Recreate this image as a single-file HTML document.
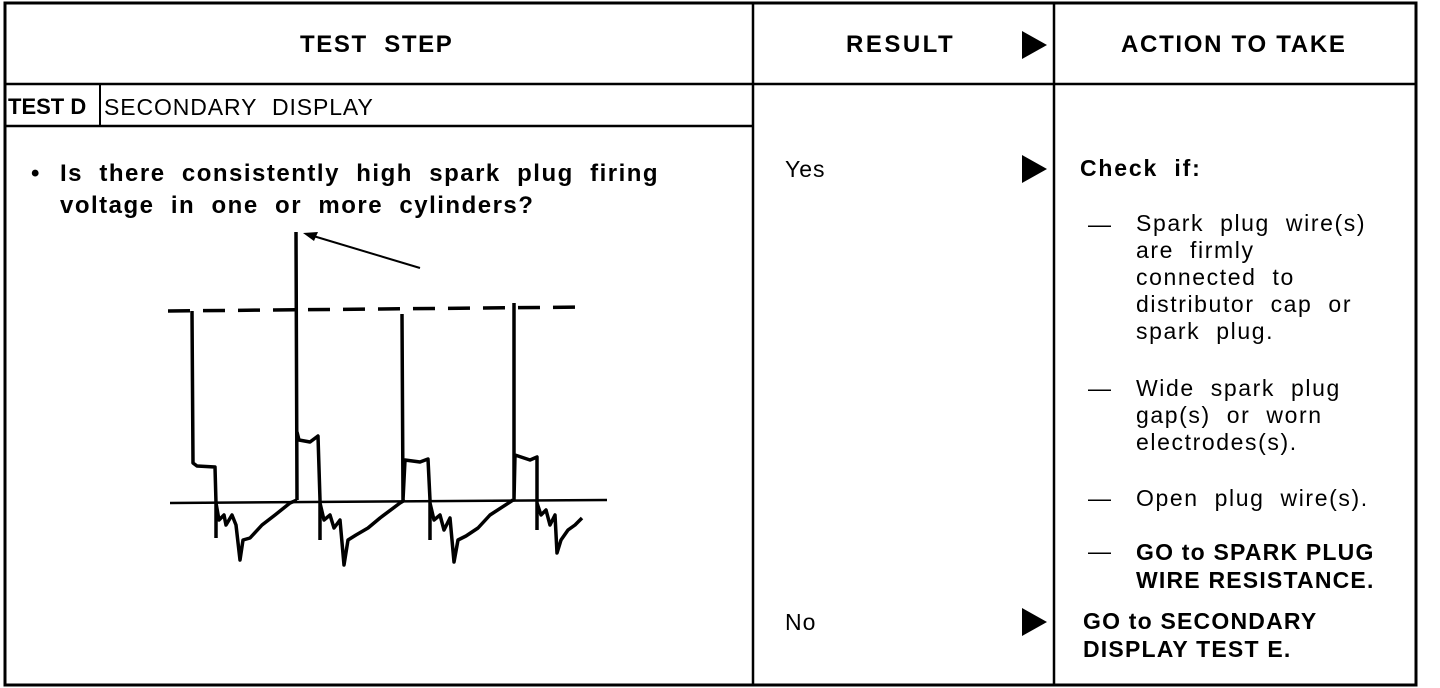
<!DOCTYPE html>
<html><head><meta charset="utf-8"><style>
body{margin:0;width:1440px;height:688px;background:#fff;overflow:hidden;font-family:"Liberation Sans",Arial,sans-serif;color:#000}
.t{position:absolute;white-space:nowrap}
.b{font-weight:bold}
</style></head><body>
<svg width="1440" height="688" style="position:absolute;left:0;top:0" fill="none" stroke="#000">
<rect x="5" y="3" width="1411" height="682" stroke-width="3"/>
<line x1="753" y1="3" x2="753" y2="685" stroke-width="2.5"/>
<line x1="1054" y1="3" x2="1054" y2="685" stroke-width="2.5"/>
<line x1="5" y1="84" x2="1416" y2="84" stroke-width="2.5"/>
<line x1="5" y1="126" x2="753" y2="126" stroke-width="2.5"/>
<line x1="100" y1="84" x2="100" y2="126" stroke-width="2"/>
<polygon points="1022,31 1022,59 1047,45" fill="#000" stroke="none"/>
<polygon points="1022,155 1022,183 1047,169" fill="#000" stroke="none"/>
<polygon points="1022,608 1022,636 1047,622" fill="#000" stroke="none"/>
<line x1="168" y1="311" x2="587" y2="307" stroke-width="3.5" stroke-dasharray="22,13"/>
<line x1="170" y1="503" x2="607" y2="500" stroke-width="2.5"/>
<g stroke-width="3.5" stroke-linejoin="round">
<path d="M192,311 L193,463 L197,466 L215,467 L216,503 L216,538 M216,503 L219,520 L224,515 L226,525 L232,515 L236,525 L240,560 L243,540 L250,538 L262,525 L275,515 L290,503 L297,500"/>
<path d="M296,232 L297,500 M297,432 L299,440 L310,442 L318,436 L320,500 L320,540 M320,503 L324,520 L330,515 L334,528 L340,520 L344,565 L348,540 L356,535 L368,528 L380,518 L400,503 L405,500"/>
<path d="M402,314 L403,500 L405,460 L420,462 L428,459 L430,500 L430,540 M430,503 L434,520 L440,515 L444,530 L450,518 L454,562 L458,540 L466,536 L478,528 L490,515 L510,502 L513,500"/>
<path d="M514,303 L514,500 L515,455 L530,460 L537,457 L537,500 L537,530 M537,503 L541,515 L546,510 L550,525 L555,515 L557,553 L561,540 L568,530 L575,525 L582,518"/>
</g>
<line x1="420" y1="268" x2="310" y2="235" stroke-width="2"/>
<polygon points="303,233 318,232 314,241" fill="#000" stroke="none"/>
</svg>
<div class="t b" style="left:300px;top:31px;font-size:24px;letter-spacing:1.6px">TEST&nbsp; STEP</div>
<div class="t b" style="left:846px;top:31px;font-size:24px;letter-spacing:2.5px">RESULT</div>
<div class="t b" style="left:1121px;top:31px;font-size:24px;letter-spacing:1.7px">ACTION TO TAKE</div>
<div class="t b" style="left:8px;top:94px;font-size:22px">TEST D</div>
<div class="t" style="left:104px;top:94px;font-size:23px;letter-spacing:0.9px">SECONDARY&nbsp; DISPLAY</div>
<div class="t b" style="left:31px;top:158px;font-size:24px;line-height:32px">•</div>
<div class="t b" style="left:60px;top:158px;font-size:24px;line-height:32px;letter-spacing:1.5px">Is&nbsp; there&nbsp; consistently&nbsp; high&nbsp; spark&nbsp; plug&nbsp; firing<br>voltage&nbsp; in&nbsp; one&nbsp; or&nbsp; more&nbsp; cylinders?</div>
<div class="t" style="left:785px;top:156px;font-size:23px;letter-spacing:1px">Yes</div>
<div class="t" style="left:785px;top:609px;font-size:23px;letter-spacing:1px">No</div>
<div class="t b" style="left:1080px;top:155px;font-size:23px;letter-spacing:1.8px">Check&nbsp; if:</div>
<div class="t" style="left:1088px;top:210px;font-size:23px;line-height:28px">—</div>
<div class="t" style="left:1136px;top:210px;font-size:23px;line-height:27px;letter-spacing:1.6px">Spark&nbsp; plug&nbsp; wire(s)<br>are&nbsp; firmly<br>connected&nbsp; to<br>distributor&nbsp; cap&nbsp; or<br>spark&nbsp; plug.</div>
<div class="t" style="left:1088px;top:375px;font-size:23px">—</div>
<div class="t" style="left:1136px;top:375px;font-size:23px;line-height:27px;letter-spacing:1.6px">Wide&nbsp; spark&nbsp; plug<br>gap(s)&nbsp; or&nbsp; worn<br>electrodes(s).</div>
<div class="t" style="left:1088px;top:485px;font-size:23px">—</div>
<div class="t" style="left:1136px;top:485px;font-size:23px;letter-spacing:1.6px">Open&nbsp; plug&nbsp; wire(s).</div>
<div class="t" style="left:1088px;top:538px;font-size:23px">—</div>
<div class="t b" style="left:1136px;top:538px;font-size:23px;line-height:28px;letter-spacing:1.2px">GO to SPARK PLUG<br>WIRE RESISTANCE.</div>
<div class="t b" style="left:1083px;top:607px;font-size:23px;line-height:28px;letter-spacing:1.2px">GO to SECONDARY<br>DISPLAY TEST E.</div>
</body></html>
